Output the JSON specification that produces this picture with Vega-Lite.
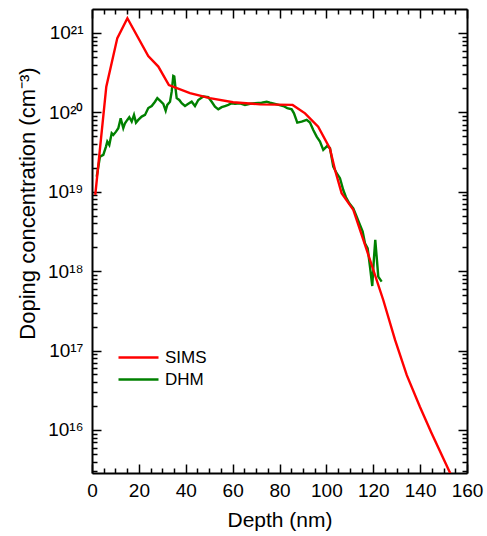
{
  "$schema": "https://vega.github.io/schema/vega-lite/v6.json",
  "width": 375,
  "height": 464,
  "autosize": {"type": "none"},
  "padding": {"left": 92, "top": 9, "right": 20, "bottom": 63},
  "background": "white",
  "config": {
    "font": "Liberation Sans",
    "view": {"stroke": null},
    "axis": {
      "grid": false,
      "domainColor": "black",
      "domainWidth": 2,
      "tickColor": "black",
      "tickWidth": 1.5,
      "labelColor": "black",
      "titleColor": "black",
      "titleFontWeight": "normal",
      "labelFlush": false,
      "labelOverlap": false,
      "labelBound": false,
      "zindex": 1
    }
  },
  "data": {
    "values": [
      {"series": "SIMS", "depth": 1.4, "conc": 9.1e18},
      {"series": "SIMS", "depth": 6.1, "conc": 2.1e20},
      {"series": "SIMS", "depth": 10.8, "conc": 8.6e20},
      {"series": "SIMS", "depth": 15.1, "conc": 1.53e21},
      {"series": "SIMS", "depth": 24.0, "conc": 5.1e20},
      {"series": "SIMS", "depth": 28.3, "conc": 3.77e20},
      {"series": "SIMS", "depth": 32.8, "conc": 2.2e20},
      {"series": "SIMS", "depth": 41.8, "conc": 1.74e20},
      {"series": "SIMS", "depth": 50.3, "conc": 1.51e20},
      {"series": "SIMS", "depth": 60.2, "conc": 1.34e20},
      {"series": "SIMS", "depth": 71.7, "conc": 1.26e20},
      {"series": "SIMS", "depth": 85.6, "conc": 1.24e20},
      {"series": "SIMS", "depth": 90.9, "conc": 9.7e19},
      {"series": "SIMS", "depth": 96.5, "conc": 6.6e19},
      {"series": "SIMS", "depth": 101.5, "conc": 3.5e19},
      {"series": "SIMS", "depth": 103.7, "conc": 1.88e19},
      {"series": "SIMS", "depth": 106.5, "conc": 9.6e18},
      {"series": "SIMS", "depth": 111.5, "conc": 5.9e18},
      {"series": "SIMS", "depth": 117.2, "conc": 1.85e18},
      {"series": "SIMS", "depth": 124.3, "conc": 4.3e17},
      {"series": "SIMS", "depth": 129.3, "conc": 1.36e17},
      {"series": "SIMS", "depth": 134.3, "conc": 4.9e16},
      {"series": "SIMS", "depth": 139.9, "conc": 1.96e16},
      {"series": "SIMS", "depth": 144.9, "conc": 9.1e15},
      {"series": "SIMS", "depth": 152.4, "conc": 3.05e15},
      {"series": "SIMS", "depth": 156.0, "conc": 1.8e15},
      {"series": "DHM", "depth": 2.01, "conc": 1.55e19},
      {"series": "DHM", "depth": 3.41, "conc": 2.77e19},
      {"series": "DHM", "depth": 4.82, "conc": 2.91e19},
      {"series": "DHM", "depth": 5.97, "conc": 3.70e19},
      {"series": "DHM", "depth": 6.53, "conc": 4.28e19},
      {"series": "DHM", "depth": 7.38, "conc": 3.88e19},
      {"series": "DHM", "depth": 8.40, "conc": 5.46e19},
      {"series": "DHM", "depth": 9.09, "conc": 5.19e19},
      {"series": "DHM", "depth": 10.24, "conc": 5.71e19},
      {"series": "DHM", "depth": 11.22, "conc": 6.31e19},
      {"series": "DHM", "depth": 12.24, "conc": 8.43e19},
      {"series": "DHM", "depth": 13.35, "conc": 6.31e19},
      {"series": "DHM", "depth": 14.08, "conc": 7.29e19},
      {"series": "DHM", "depth": 15.06, "conc": 8.02e19},
      {"series": "DHM", "depth": 15.91, "conc": 8.67e19},
      {"series": "DHM", "depth": 16.94, "conc": 7.63e19},
      {"series": "DHM", "depth": 17.92, "conc": 9.27e19},
      {"series": "DHM", "depth": 18.77, "conc": 7.42e19},
      {"series": "DHM", "depth": 19.75, "conc": 8.02e19},
      {"series": "DHM", "depth": 21.20, "conc": 8.83e19},
      {"series": "DHM", "depth": 22.61, "conc": 9.27e19},
      {"series": "DHM", "depth": 24.02, "conc": 1.13e20},
      {"series": "DHM", "depth": 25.47, "conc": 1.20e20},
      {"series": "DHM", "depth": 26.88, "conc": 1.36e20},
      {"series": "DHM", "depth": 27.86, "conc": 1.51e20},
      {"series": "DHM", "depth": 29.01, "conc": 1.40e20},
      {"series": "DHM", "depth": 30.42, "conc": 1.28e20},
      {"series": "DHM", "depth": 31.44, "conc": 1.05e20},
      {"series": "DHM", "depth": 32.12, "conc": 1.24e20},
      {"series": "DHM", "depth": 33.28, "conc": 1.36e20},
      {"series": "DHM", "depth": 34.00, "conc": 1.82e20},
      {"series": "DHM", "depth": 34.68, "conc": 2.87e20},
      {"series": "DHM", "depth": 35.11, "conc": 2.82e20},
      {"series": "DHM", "depth": 35.71, "conc": 1.91e20},
      {"series": "DHM", "depth": 36.13, "conc": 1.51e20},
      {"series": "DHM", "depth": 37.24, "conc": 1.43e20},
      {"series": "DHM", "depth": 38.27, "conc": 1.30e20},
      {"series": "DHM", "depth": 39.68, "conc": 1.20e20},
      {"series": "DHM", "depth": 41.08, "conc": 1.28e20},
      {"series": "DHM", "depth": 42.53, "conc": 1.36e20},
      {"series": "DHM", "depth": 43.94, "conc": 1.20e20},
      {"series": "DHM", "depth": 45.35, "conc": 1.43e20},
      {"series": "DHM", "depth": 47.48, "conc": 1.58e20},
      {"series": "DHM", "depth": 49.62, "conc": 1.55e20},
      {"series": "DHM", "depth": 51.07, "conc": 1.36e20},
      {"series": "DHM", "depth": 52.47, "conc": 1.18e20},
      {"series": "DHM", "depth": 53.88, "conc": 1.09e20},
      {"series": "DHM", "depth": 55.33, "conc": 1.16e20},
      {"series": "DHM", "depth": 56.74, "conc": 1.20e20},
      {"series": "DHM", "depth": 58.15, "conc": 1.24e20},
      {"series": "DHM", "depth": 59.60, "conc": 1.30e20},
      {"series": "DHM", "depth": 61.01, "conc": 1.28e20},
      {"series": "DHM", "depth": 63.14, "conc": 1.30e20},
      {"series": "DHM", "depth": 65.27, "conc": 1.24e20},
      {"series": "DHM", "depth": 67.41, "conc": 1.28e20},
      {"series": "DHM", "depth": 69.54, "conc": 1.30e20},
      {"series": "DHM", "depth": 72.40, "conc": 1.32e20},
      {"series": "DHM", "depth": 74.53, "conc": 1.36e20},
      {"series": "DHM", "depth": 75.94, "conc": 1.32e20},
      {"series": "DHM", "depth": 78.07, "conc": 1.28e20},
      {"series": "DHM", "depth": 81.61, "conc": 1.20e20},
      {"series": "DHM", "depth": 83.32, "conc": 1.13e20},
      {"series": "DHM", "depth": 85.20, "conc": 1.09e20},
      {"series": "DHM", "depth": 86.18, "conc": 9.7e19},
      {"series": "DHM", "depth": 87.59, "conc": 7.42e19},
      {"series": "DHM", "depth": 89.46, "conc": 7.63e19},
      {"series": "DHM", "depth": 91.60, "conc": 8.02e19},
      {"series": "DHM", "depth": 93.00, "conc": 7.42e19},
      {"series": "DHM", "depth": 94.41, "conc": 6.0e19},
      {"series": "DHM", "depth": 95.86, "conc": 4.94e19},
      {"series": "DHM", "depth": 97.27, "conc": 4.28e19},
      {"series": "DHM", "depth": 98.68, "conc": 3.36e19},
      {"series": "DHM", "depth": 100.38, "conc": 3.77e19},
      {"series": "DHM", "depth": 101.54, "conc": 3.53e19},
      {"series": "DHM", "depth": 102.94, "conc": 2.07e19},
      {"series": "DHM", "depth": 104.39, "conc": 1.71e19},
      {"series": "DHM", "depth": 105.80, "conc": 1.48e19},
      {"series": "DHM", "depth": 107.21, "conc": 1.05e19},
      {"series": "DHM", "depth": 108.36, "conc": 8.53e18},
      {"series": "DHM", "depth": 109.77, "conc": 7.16e18},
      {"series": "DHM", "depth": 111.48, "conc": 6.19e18},
      {"series": "DHM", "depth": 112.63, "conc": 5.10e18},
      {"series": "DHM", "depth": 114.04, "conc": 4.01e18},
      {"series": "DHM", "depth": 115.49, "conc": 3.14e18},
      {"series": "DHM", "depth": 116.47, "conc": 2.24e18},
      {"series": "DHM", "depth": 117.62, "conc": 1.94e18},
      {"series": "DHM", "depth": 118.60, "conc": 1.14e18},
      {"series": "DHM", "depth": 119.58, "conc": 6.5e17},
      {"series": "DHM", "depth": 120.31, "conc": 1.47e18},
      {"series": "DHM", "depth": 120.86, "conc": 2.47e18},
      {"series": "DHM", "depth": 121.46, "conc": 1.51e18},
      {"series": "DHM", "depth": 122.14, "conc": 8.53e17},
      {"series": "DHM", "depth": 123.59, "conc": 7.38e17}
    ]
  },
  "layer": [
    {
      "transform": [{"filter": "datum.series == 'DHM'"}],
      "mark": {"type": "line", "strokeWidth": 2.4, "clip": true},
      "encoding": {
        "x": {
          "field": "depth", "type": "quantitative",
          "scale": {"domain": [0, 160], "nice": false, "zero": false},
          "axis": {
            "orient": "bottom",
            "values": [0,5,10,15,20,25,30,35,40,45,50,55,60,65,70,75,80,85,90,95,100,105,110,115,120,125,130,135,140,145,150,155,160],
            "labelExpr": "datum.value % 20 == 0 ? datum.label : ''",
            "tickSize": {"condition": {"test": "datum.value % 20 == 0", "value": -9}, "value": -5},
            "labelPadding": 17,
            "labelFontSize": 19,
            "title": "Depth (nm)",
            "titleFontSize": 21,
            "titlePadding": 5
          }
        },
        "y": {
          "field": "conc", "type": "quantitative",
          "scale": {"type": "log", "domain": [2.87e15, 2.0e21], "nice": false},
          "axis": {
            "orient": "left",
            "values": [3e15,4e15,5e15,6e15,7e15,8e15,9e15,1e16,2e16,3e16,4e16,5e16,6e16,7e16,8e16,9e16,1e17,2e17,3e17,4e17,5e17,6e17,7e17,8e17,9e17,1e18,2e18,3e18,4e18,5e18,6e18,7e18,8e18,9e18,1e19,2e19,3e19,4e19,5e19,6e19,7e19,8e19,9e19,1e20,2e20,3e20,4e20,5e20,6e20,7e20,8e20,9e20,1e21],
            "labelExpr": "abs(log(datum.value)/LN10 - round(log(datum.value)/LN10)) > 0.001 ? '' : ['10¹⁵','10¹⁶','10¹⁷','10¹⁸','10¹⁹','10²⁰','10²¹'][round(log(datum.value)/LN10) - 15]",
            "tickSize": {"condition": {"test": "abs(log(datum.value)/LN10 - round(log(datum.value)/LN10)) < 0.001", "value": -9}, "value": -5},
            "labelPadding": 18,
            "labelFontSize": 19,
            "title": "Doping concentration (cm⁻³)",
            "titleFontSize": 22,
            "titleY": 194,
            "titlePadding": 8
          }
        },
        "color": {
          "field": "series", "type": "nominal",
          "scale": {"domain": ["SIMS", "DHM"], "range": ["#ff0000", "#008000"]},
          "legend": {
            "orient": "none", "legendX": 35, "legendY": 337,
            "title": null, "symbolType": "M-2,0H2", "symbolSize": 400,
            "symbolStrokeWidth": 2.4, "labelFontSize": 17, "labelColor": "black",
            "labelOffset": 15, "padding": 0, "rowPadding": 2
          }
        }
      }
    },
    {
      "transform": [{"filter": "datum.series == 'SIMS'"}],
      "mark": {"type": "line", "strokeWidth": 2.4, "clip": true},
      "encoding": {
        "x": {
          "field": "depth", "type": "quantitative",
          "scale": {"domain": [0, 160], "nice": false, "zero": false},
          "axis": {
            "orient": "top",
            "values": [0,5,10,15,20,25,30,35,40,45,50,55,60,65,70,75,80,85,90,95,100,105,110,115,120,125,130,135,140,145,150,155,160],
            "labels": false,
            "tickSize": {"condition": {"test": "datum.value % 20 == 0", "value": -9}, "value": -5},
            "title": null
          }
        },
        "y": {
          "field": "conc", "type": "quantitative",
          "scale": {"type": "log", "domain": [2.87e15, 2.0e21], "nice": false},
          "axis": {
            "orient": "right",
            "values": [3e15,4e15,5e15,6e15,7e15,8e15,9e15,1e16,2e16,3e16,4e16,5e16,6e16,7e16,8e16,9e16,1e17,2e17,3e17,4e17,5e17,6e17,7e17,8e17,9e17,1e18,2e18,3e18,4e18,5e18,6e18,7e18,8e18,9e18,1e19,2e19,3e19,4e19,5e19,6e19,7e19,8e19,9e19,1e20,2e20,3e20,4e20,5e20,6e20,7e20,8e20,9e20,1e21],
            "labels": false,
            "tickSize": {"condition": {"test": "abs(log(datum.value)/LN10 - round(log(datum.value)/LN10)) < 0.001", "value": -9}, "value": -5},
            "title": null
          }
        },
        "color": {
          "field": "series", "type": "nominal",
          "scale": {"domain": ["SIMS", "DHM"], "range": ["#ff0000", "#008000"]},
          "legend": {
            "orient": "none", "legendX": 35, "legendY": 337,
            "title": null, "symbolType": "M-2,0H2", "symbolSize": 400,
            "symbolStrokeWidth": 2.4, "labelFontSize": 17, "labelColor": "black",
            "labelOffset": 15, "padding": 0, "rowPadding": 2
          }
        }
      }
    }
  ],
  "resolve": {"axis": {"x": "independent", "y": "independent"}}
}
